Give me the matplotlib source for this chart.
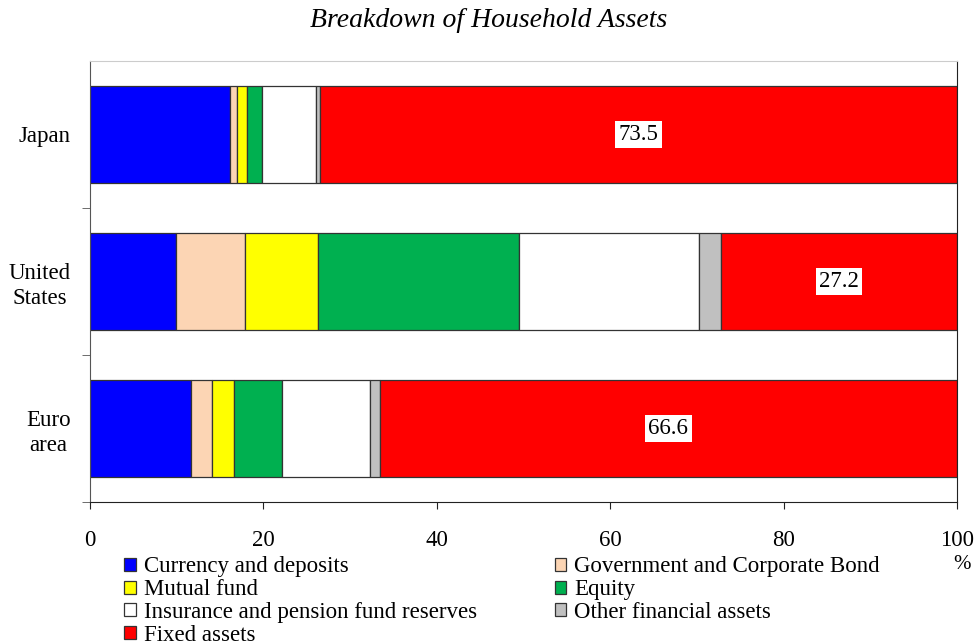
import matplotlib
matplotlib.use("Agg")
import matplotlib.pyplot as plt
from matplotlib.ticker import FixedLocator

# Data (share of total household assets, %)
regions = ["Japan", "United\nStates", "Euro\narea"]
categories = [
    "Currency and deposits",
    "Government and Corporate Bond",
    "Mutual fund",
    "Equity",
    "Insurance and pension fund reserves",
    "Other financial assets",
    "Fixed assets",
]
currency = [16.2, 9.9, 11.7]
bond = [0.8, 8.0, 2.4]
mutual = [1.1, 8.4, 2.5]
equity = [1.7, 23.2, 5.5]
insurance = [6.3, 20.7, 10.2]
other = [0.4, 2.6, 1.1]
fixed = [73.5, 27.2, 66.6]

colors = ["#0000FF", "#FCD5B4", "#FFFF00", "#00B050", "#FFFFFF", "#C0C0C0", "#FF0000"]
series = [currency, bond, mutual, equity, insurance, other, fixed]

plt.rcParams["font.family"] = ["Liberation Serif", "DejaVu Serif"]

fig = plt.figure(figsize=(9.78, 6.44), dpi=100)
ax = fig.add_axes([0.092, 0.2205, 0.8865, 0.6848])

ypos = list(range(len(regions)))
left = [0.0] * len(regions)
handles = []
for vals, col, name in zip(series, colors, categories):
    bars = ax.barh(ypos, vals, left=left, height=0.66, color=col,
                   edgecolor="#333333", linewidth=0.9, label=name)
    handles.append(bars)
    left = [l + v for l, v in zip(left, vals)]

# value labels for fixed assets
start = [100 - f for f in fixed]
for y, s, f in zip(ypos, start, fixed):
    ax.text(s + f / 2, y, f"{f:.1f}", ha="center", va="center", fontsize=16.5,
            bbox=dict(facecolor="white", edgecolor="none", pad=2.5))

ax.set_xlim(0, 100)
ax.set_ylim(2.5, -0.5)
ax.set_xticks([0, 20, 40, 60, 80, 100])
ax.tick_params(axis="x", labelsize=16.5, direction="out", length=5, pad=15, color="#222222")
ax.set_yticks(ypos)
ax.set_yticklabels(regions)
ax.tick_params(axis="y", which="major", length=0, pad=14, labelsize=16.5)
ax.yaxis.set_minor_locator(FixedLocator([0.5, 1.5, 2.5]))
ax.tick_params(axis="y", which="minor", length=6, direction="out", color="#555555")
for t in ax.get_yticklabels():
    t.set_multialignment("center")
    t.set_linespacing(1.25)

ax.spines["top"].set_color("#CCCCCC")
ax.spines["right"].set_color("#222222")
ax.spines["left"].set_color("#555555")
ax.spines["bottom"].set_color("#222222")

fig.text(0.5, 0.968, "Breakdown of Household Assets", ha="center", va="center",
         fontsize=20, style="italic")
fig.text(0.984, 0.124, "%", ha="center", va="center", fontsize=15)

# legend: left column then right column
order = [0, 2, 4, 6, 1, 3, 5]
fig.legend([handles[i] for i in order], [categories[i] for i in order],
           loc="upper left", bbox_to_anchor=(0.127, 0.136), ncol=2, frameon=False,
           fontsize=16.5, handlelength=0.5, handleheight=0.5, handletextpad=0.35,
           labelspacing=0.08, columnspacing=3.4, borderaxespad=0, borderpad=0)

fig.savefig("out.png", dpi=100)
